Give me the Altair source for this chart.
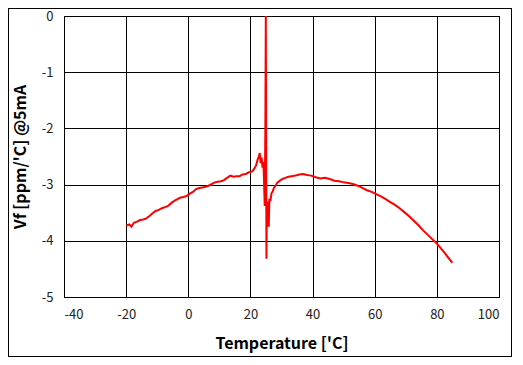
import altair as alt
import pandas as pd

temps = [-20, -19, -18.3, -17.5, -16.5, -15.5, -14.5, -13.5, -12.5, -11.5,
         -10.5, -9.5, -8.5, -7.5, -6.5, -5.5, -4.5, -3.5, -2.5, -1.5,
         -0.5, 0.5, 1.5, 2.5, 3.5, 4.5, 5.5, 6.5, 7.5, 8.5,
         9.5, 10.5, 11.5, 12.5, 13.5, 14.5, 15.5, 16.5, 17.5, 18.5,
         19.5, 20.5, 21.2, 21.8, 22.3, 22.7, 23.0, 23.3, 23.6, 23.9,
         24.2, 24.6, 24.8, 24.95, 25.15, 25.3, 25.5, 25.7, 25.9, 26.1,
         26.4, 26.8, 27.2, 27.6, 28.1, 28.7, 29.5, 30.3, 31.2, 32.2,
         33.3, 34.5, 35.7, 37.0, 38.2, 39.5, 41.0, 42.5, 44.0, 45.5,
         47.0, 48.5, 50.0, 51.5, 53.0, 54.5, 56.0, 57.5, 59.0, 60.5,
         62.0, 63.5, 65.0, 66.5, 68.0, 69.5, 71.0, 72.5, 74.0, 75.5,
         77.0, 78.5, 80.0, 81.5, 83.0, 84.5, 85.0]
vf = [-3.73, -3.71, -3.75, -3.68, -3.66, -3.63, -3.62, -3.60, -3.56, -3.51,
      -3.47, -3.45, -3.42, -3.40, -3.38, -3.33, -3.29, -3.26, -3.23, -3.22,
      -3.20, -3.16, -3.13, -3.08, -3.06, -3.05, -3.04, -3.02, -2.99, -2.96,
      -2.95, -2.94, -2.92, -2.88, -2.84, -2.86, -2.85, -2.85, -2.82, -2.81,
      -2.78, -2.77, -2.72, -2.66, -2.56, -2.50, -2.44, -2.62, -2.52, -2.70,
      -2.60, -3.38, -2.00, 0.00, -4.32, -3.35, -3.60, -3.30, -3.75, -3.25,
      -3.30, -3.15, -3.12, -3.05, -3.02, -2.96, -2.93, -2.90, -2.88, -2.86,
      -2.85, -2.84, -2.82, -2.81, -2.83, -2.84, -2.87, -2.89, -2.88, -2.90,
      -2.93, -2.94, -2.96, -2.97, -2.99, -3.02, -3.06, -3.10, -3.13, -3.17,
      -3.21, -3.26, -3.31, -3.36, -3.42, -3.49, -3.56, -3.64, -3.72, -3.81,
      -3.89, -3.97, -4.05, -4.15, -4.25, -4.36, -4.39]

x_ticks = [-40, -20, 0, 20, 40, 60, 80, 100]
y_ticks = [0, -1, -2, -3, -4, -5]

df = pd.DataFrame({"t": temps, "vf": vf, "i": list(range(len(temps)))})

FONT = "Noto Sans CJK KR"

line = alt.Chart(df).mark_line(color="#FF0000", strokeWidth=2).encode(
    x=alt.X("t:Q", scale=alt.Scale(domain=[-40, 100], nice=False),
            axis=alt.Axis(values=x_ticks, title="Temperature ['C]", grid=True,
                          gridColor="black", gridOpacity=1, gridWidth=1,
                          ticks=False, domainColor="black", labelPadding=11,
                          labelExpr="toString(datum.value)",
                          labelFontSize=13, labelColor="#222", labelFont=FONT,
                          titleFont=FONT, titleFontSize=16, titleFontWeight="bold",
                          titleColor="black", titleY=46, titleBaseline="middle")),
    y=alt.Y("vf:Q", scale=alt.Scale(domain=[-5, 0], nice=False),
            axis=alt.Axis(values=y_ticks, title="Vf [ppm/'C] @5mA", grid=True,
                          gridColor="black", gridOpacity=1, gridWidth=1,
                          ticks=False, domainColor="black", labelPadding=11,
                          labelExpr="toString(datum.value)",
                          labelFontSize=13, labelColor="#222", labelFont=FONT,
                          titleFont=FONT, titleFontSize=16, titleFontWeight="bold",
                          titleColor="black", titleX=-44, titleY=140.5,
                          titleBaseline="middle")),
    order="i:Q",
)

frame = alt.Chart(df).mark_rect(fill=None, stroke="black", strokeWidth=1).encode(
    x=alt.value(-55.5), x2=alt.value(447.5), y=alt.value(-7.5), y2=alt.value(340.5)
)

chart = alt.layer(line, frame).properties(
    width=435, height=281,
    autosize=alt.AutoSizeParams(type="none"),
    padding={"left": 56, "top": 8, "right": 16, "bottom": 60},
    background="white",
).configure_view(stroke="black", strokeWidth=1)

chart.save("out.html", embed_options={"renderer": "svg", "actions": False})
